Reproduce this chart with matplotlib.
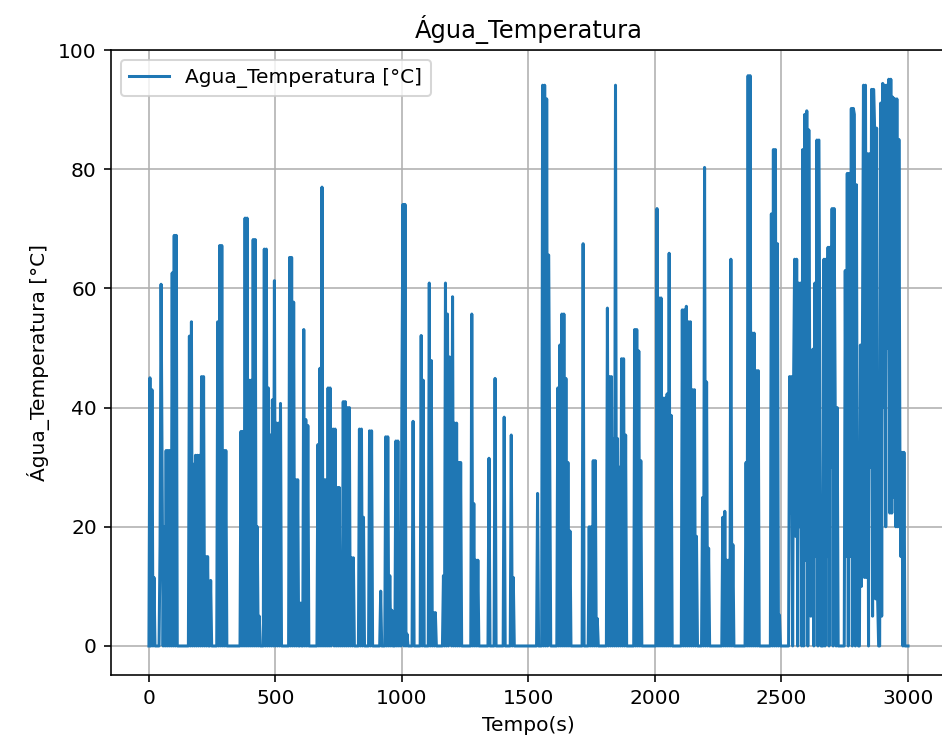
import matplotlib
matplotlib.use("Agg")
import matplotlib.pyplot as plt

# amostras: cada trecho comeca em "inicio" (s),
# leituras a cada PASSO segundos; fora dos trechos a temperatura e 0
PASSO = 4
T_FINAL = 3000

inicios = [0, 40, 156, 268, 360,
           552, 664, 828, 912,
           1040, 1104, 1160, 1272, 1340, 1400,
           1532, 1612, 1712, 1808, 1916,
           2004, 2104, 2184, 2264, 2356, 2456,
           2528, 2748]

trechos = [
    [0, 45, 0, 43, 0, 11.5, 0],
    [0, 17, 60.7, 30, 0, 20, 0, 32.8, 0, 32.8, 0, 32.8, 0, 62.6, 0, 68.9, 0, 68.9, 0],
    [0, 52, 0, 54.4, 0, 30.5, 0, 32, 0, 32, 0, 32, 0, 45.2, 0, 45.2, 0, 15, 0, 15, 0, 0, 11, 0],
    [0, 54.4, 0, 67.2, 0, 67.2, 0, 32.8, 0, 32.8, 0],
    [0, 36, 0, 36, 0, 71.8, 0, 71.8, 0, 44.6, 0, 44.6, 0, 68.2, 0, 68.2, 0, 20, 0, 5, 0,
     0, 0, 0, 66.6, 0, 66.6, 0, 43.3, 0, 35.4, 0, 41.3, 0, 61.3, 0, 37.4, 0, 37.4, 0, 40.7, 0],
    [0, 65.2, 0, 65.2, 0, 57.7, 0, 27.9, 0, 27.9, 0, 0, 7.2, 0, 0, 53.1, 0, 38, 0, 37, 0],
    [0, 33.8, 0, 46.6, 0, 77, 0, 27.9, 0, 27.9, 0, 43.3, 0, 43.3, 0, 10, 36.4, 0, 36.4, 0,
     26.6, 0, 26.6, 0, 6, 0, 41, 0, 41, 0, 40, 0, 40, 0, 14.8, 0, 14.8, 0],
    [0, 36.4, 0, 36.4, 0, 21.6, 0, 0, 0, 0, 0, 36.1, 0, 36.1, 0],
    [0, 9.2, 0, 0, 0, 0, 35.1, 0, 35.1, 0, 11.8, 0, 6, 0, 0, 0, 34.4, 0, 34.4, 0, 15, 0,
     43.6, 74.1, 0, 74.1, 0, 2, 0],
    [0, 37.7, 0, 0, 0, 0, 0, 0, 0, 52.1, 0, 44.6, 0],
    [0, 60.9, 0, 47.9, 0, 5.6, 0, 5.6, 0],
    [0, 11.8, 0, 60.9, 0, 55.7, 0, 48.5, 37.4, 0, 58.6, 0, 37.4, 0, 37.4, 0, 30.8, 0, 30.8, 0],
    [0, 55.7, 0, 23.9, 0, 14.4, 0, 14.4, 0],
    [0, 31.5, 0, 0, 0, 0, 0, 44.9, 0],
    [0, 38.4, 0, 0, 0, 0, 0, 0, 35.4, 0, 11.5, 0],
    [0, 25.6, 0, 0, 0, 0, 94.1, 0, 94.1, 0, 91.8, 0, 65.6, 31.5, 0],
    [0, 43.3, 0, 50.5, 0, 55.7, 0, 55.7, 0, 44.9, 0, 30.8, 0, 19.3, 0],
    [0, 67.5, 0, 0, 0, 0, 0, 20, 0, 20, 0, 31.1, 0, 31.1, 0, 4.6, 0],
    [0, 56.7, 0, 45.2, 0, 45.2, 0, 34.8, 0, 94.1, 0, 34.8, 0, 30, 0, 48.2, 0, 48.2, 0, 35.4, 0],
    [0, 53.1, 0, 53.1, 0, 49.5, 0, 31.1, 0],
    [0, 73.4, 0, 58.4, 0, 58.4, 0, 41.6, 0, 41.6, 0, 42.3, 0, 65.9, 0, 38.7, 0],
    [0, 56.4, 0, 56.4, 0, 57, 0, 54.4, 0, 54.4, 0, 43, 0, 43, 0, 18.4, 0],
    [0, 24.9, 0, 80.3, 0, 44.3, 0, 16.4, 0],
    [0, 21.6, 0, 22.6, 0, 14.4, 0, 14.4, 0, 64.9, 0, 17, 0],
    [0, 30.8, 0, 95.7, 0, 95.7, 0, 52.5, 0, 52.5, 0, 46.2, 0, 46.2, 0],
    [0, 72.5, 0, 83.3, 0, 83.3, 0, 67.5, 0, 5.2, 0],
    [0, 45.2, 22.3, 45.2, 0, 45.2, 64.9, 18.4, 64.9, 0, 60.9, 20, 60.9, 0, 83.3, 0,
     89.2, 14.4, 89.8, 0, 86.6, 39.7, 5, 39.7, 49.8, 0, 60.9, 15, 84.9, 0, 84.9, 44.6,
     0, 0, 0, 64.9, 0, 64.9, 15, 66.9, 0, 66.9, 30, 73.4, 0, 73.4, 42.6, 0, 40, 0],
    [0, 63, 15, 79.3, 0, 79.3, 15, 90.2, 0, 90.2, 89.2, 0, 77.4, 15, 0, 0, 50.5, 10,
     50.5, 94.1, 11.5, 94.1, 11.5, 82.6, 0, 82.6, 30, 93.4, 5, 93.4, 86.9, 7.9, 86.9,
     7.9, 0, 0, 91.1, 5, 94.4, 40, 94.1, 20, 94.1, 50, 95.1, 22.3, 95.1, 22.3, 92.1, 25,
     91.8, 20, 91.8, 20, 85, 32.5, 15, 32.5, 0, 32.5, 0],
]

tempo = []
temperatura = []
for t0, valores in zip(inicios, trechos):
    for i, v in enumerate(valores):
        tempo.append(t0 + PASSO * i)
        temperatura.append(v)
tempo.append(T_FINAL)
temperatura.append(0)

fig = plt.figure(figsize=(942 / 145, 749 / 145), dpi=145)
ax = fig.add_axes([0.1178, 0.0988, 0.8864, 0.8344])

ax.plot(tempo, temperatura, label="Agua_Temperatura [°C]")
ax.set_xlim(-150, 3150)
ax.set_ylim(-4.87, 100)
ax.set_title("Água_Temperatura")
ax.set_xlabel("Tempo(s)")
ax.set_ylabel("Água_Temperatura [°C]")
ax.grid(True)
ax.legend(loc="upper left")

fig.savefig("out.png", dpi=145)
